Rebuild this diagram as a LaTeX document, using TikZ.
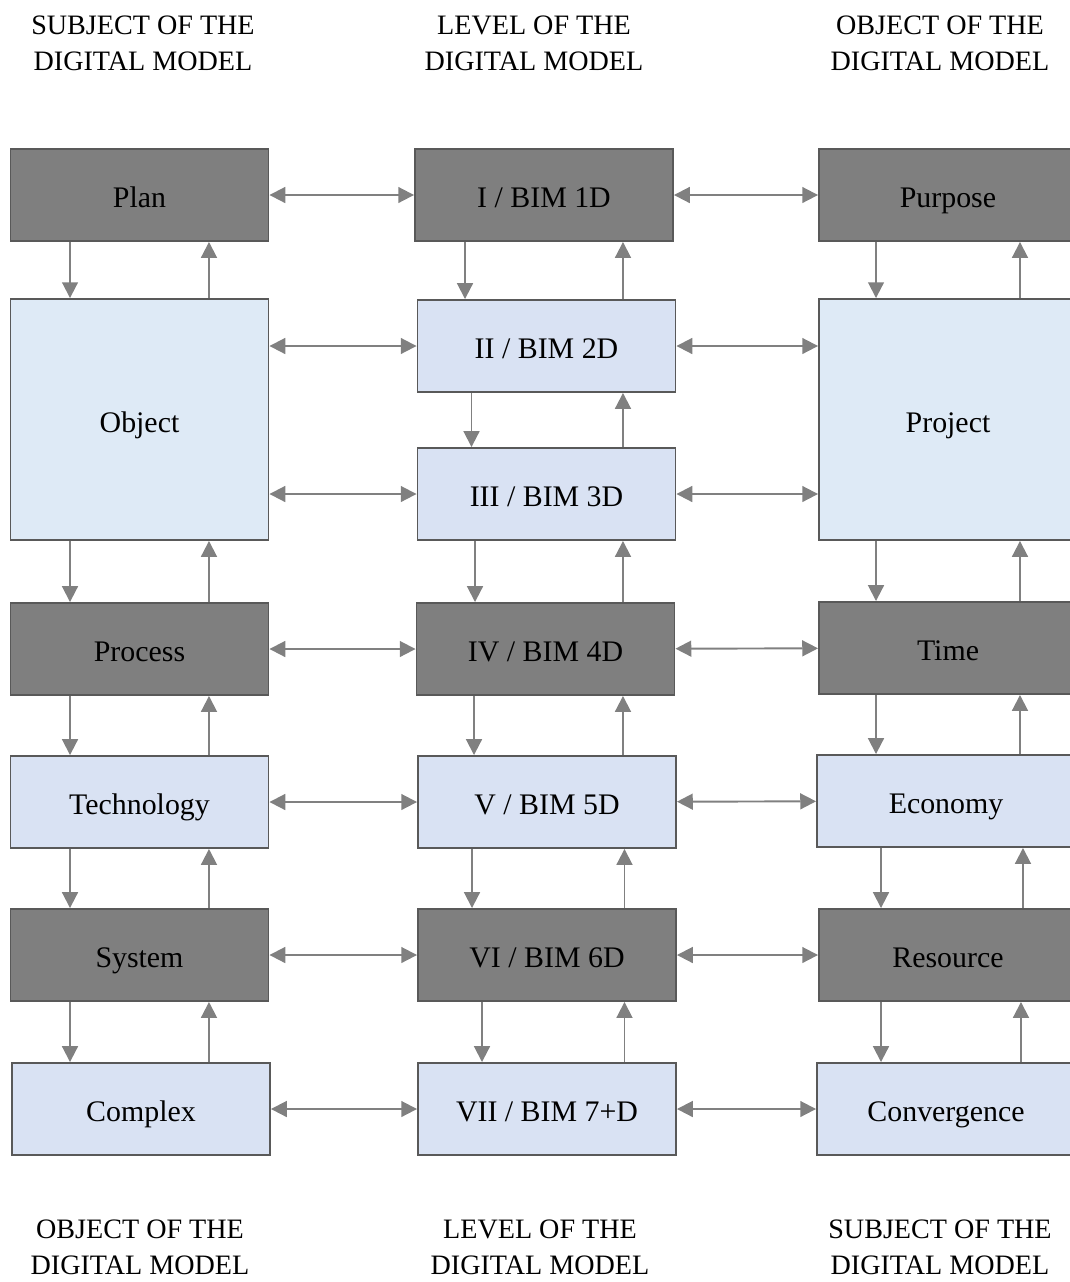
\documentclass[tikz,border=0pt]{standalone}
\usepackage{fontspec}
\setmainfont{Liberation Serif}
\usetikzlibrary{arrows.meta}

\definecolor{darkfill}{HTML}{7F7F7F}
\definecolor{lightfill}{HTML}{D9E2F3}
\definecolor{palefill}{HTML}{DEEAF6}
\definecolor{edgegray}{HTML}{595959}
\definecolor{arrowgray}{HTML}{808080}

\tikzset{
  box/.style={draw=edgegray,line width=1.1pt,minimum width=5.16cm,minimum height=1.84cm,inner sep=0pt,
    text height=14.5pt,text depth=0pt},
  darkbox/.style={box,fill=darkfill},
  lightbox/.style={box,fill=lightfill},
  palebox/.style={box,fill=palefill,minimum height=4.82cm},
  flow/.style={draw=arrowgray,line width=1.1pt,-{Triangle[length=9pt,width=9pt]}},
  link/.style={draw=arrowgray,line width=1.1pt,{Triangle[length=9pt,width=9pt]}-{Triangle[length=9pt,width=9pt]}},
  heading/.style={align=center,inner sep=0pt,font=\fontsize{16}{20.4}\selectfont}
}

\begin{document}
\begin{tikzpicture}[x=0.02cm,y=-0.02cm,font=\fontsize{17}{20.4}\selectfont]
  \useasboundingbox (0,0) rectangle (1070,1282);

  % headings
  \node[heading] (hsubj) at (143,43) {SUBJECT OF THE\\DIGITAL MODEL};
  \node[heading] (hlev)  at (534,43) {LEVEL OF THE\\DIGITAL MODEL};
  \node[heading] (hobj)  at (940,43) {OBJECT OF THE\\DIGITAL MODEL};
  \node[heading] (fobj)  at (140,1247) {OBJECT OF THE\\DIGITAL MODEL};
  \node[heading] (flev)  at (540,1247) {LEVEL OF THE\\DIGITAL MODEL};
  \node[heading] (fsubj) at (940,1247) {SUBJECT OF THE\\DIGITAL MODEL};

  % subject column
  \node[darkbox]  (plan)    at (139.5,195)   {Plan};
  \node[palebox]  (object)  at (139.5,419.5) {Object};
  \node[darkbox]  (process) at (139.5,649)   {Process};
  \node[lightbox] (tech)    at (139.5,802)   {Technology};
  \node[darkbox]  (system)  at (139.5,955)   {System};
  \node[lightbox] (complex) at (141,1109)    {Complex};

  % level column
  \node[darkbox]  (bim1) at (544,195)    {I / BIM 1D};
  \node[lightbox] (bim2) at (546.5,346)  {II / BIM 2D};
  \node[lightbox] (bim3) at (546.5,494)  {III / BIM 3D};
  \node[darkbox]  (bim4) at (545.5,649)  {IV / BIM 4D};
  \node[lightbox] (bim5) at (547,802)    {V / BIM 5D};
  \node[darkbox]  (bim6) at (547,955)    {VI / BIM 6D};
  \node[lightbox] (bim7) at (547,1109)   {VII / BIM 7+D};

  % object column
  \node[darkbox]  (purpose)  at (948,195)   {Purpose};
  \node[palebox]  (project)  at (948,419.5) {Project};
  \node[darkbox]  (time)     at (948,648)   {Time};
  \node[lightbox] (economy)  at (946,801)   {Economy};
  \node[darkbox]  (resource) at (948,955)   {Resource};
  \node[lightbox] (converge) at (946,1109)  {Convergence};

  % left column, down and up
  \draw[flow] ([xshift=-1.39cm]plan.south) -- ([xshift=-1.39cm]object.north);
  \draw[flow] ([xshift=1.39cm]object.north) -- ([xshift=1.39cm]plan.south);
  \draw[flow] ([xshift=-1.39cm]object.south) -- ([xshift=-1.39cm]process.north);
  \draw[flow] ([xshift=1.39cm]process.north) -- ([xshift=1.39cm]object.south);
  \draw[flow] ([xshift=-1.39cm]process.south) -- ([xshift=-1.39cm]tech.north);
  \draw[flow] ([xshift=1.39cm]tech.north) -- ([xshift=1.39cm]process.south);
  \draw[flow] ([xshift=-1.39cm]tech.south) -- ([xshift=-1.39cm]system.north);
  \draw[flow] ([xshift=1.39cm]system.north) -- ([xshift=1.39cm]tech.south);
  \draw[flow] ([xshift=-1.39cm]system.south) -- ([xshift=-1.39cm]system.south |- complex.north);
  \draw[flow] ([xshift=1.39cm]system.south |- complex.north) -- ([xshift=1.39cm]system.south);

  % middle column, down and up
  \draw[flow] ([xshift=-1.58cm]bim1.south) -- ([xshift=-1.58cm]bim1.south |- bim2.north);
  \draw[flow] ([xshift=1.58cm]bim1.south |- bim2.north) -- ([xshift=1.58cm]bim1.south);
  \draw[flow] ([xshift=-1.5cm]bim2.south) -- ([xshift=-1.5cm]bim3.north);
  \draw[flow] ([xshift=1.53cm]bim3.north) -- ([xshift=1.53cm]bim2.south);
  \draw[flow] ([xshift=-1.43cm]bim3.south) -- ([xshift=-1.43cm]bim3.south |- bim4.north);
  \draw[flow] ([xshift=1.53cm]bim3.south |- bim4.north) -- ([xshift=1.53cm]bim3.south);
  \draw[flow] ([xshift=-1.43cm]bim4.south) -- ([xshift=-1.43cm]bim4.south |- bim5.north);
  \draw[flow] ([xshift=1.55cm]bim4.south |- bim5.north) -- ([xshift=1.55cm]bim4.south);
  \draw[flow] ([xshift=-1.5cm]bim5.south) -- ([xshift=-1.5cm]bim6.north);
  \draw[flow] ([xshift=1.55cm]bim6.north) -- ([xshift=1.55cm]bim5.south);
  \draw[flow] ([xshift=-1.3cm]bim6.south) -- ([xshift=-1.3cm]bim7.north);
  \draw[flow] ([xshift=1.55cm]bim7.north) -- ([xshift=1.55cm]bim6.south);

  % right column, down and up
  \draw[flow] ([xshift=-1.44cm]purpose.south) -- ([xshift=-1.44cm]project.north);
  \draw[flow] ([xshift=1.44cm]project.north) -- ([xshift=1.44cm]purpose.south);
  \draw[flow] ([xshift=-1.44cm]project.south) -- ([xshift=-1.44cm]project.south |- time.north);
  \draw[flow] ([xshift=1.44cm]project.south |- time.north) -- ([xshift=1.44cm]project.south);
  \draw[flow] ([xshift=-1.44cm]time.south) -- ([xshift=-1.44cm]time.south |- economy.north);
  \draw[flow] ([xshift=1.44cm]time.south |- economy.north) -- ([xshift=1.44cm]time.south);
  \draw[flow] ([xshift=-1.3cm]economy.south) -- ([xshift=-1.3cm]economy.south |- resource.north);
  \draw[flow] ([xshift=1.54cm]economy.south |- resource.north) -- ([xshift=1.54cm]economy.south);
  \draw[flow] ([xshift=-1.34cm]resource.south) -- ([xshift=-1.34cm]resource.south |- converge.north);
  \draw[flow] ([xshift=1.46cm]resource.south |- converge.north) -- ([xshift=1.46cm]resource.south);

  % horizontal links
  \draw[link] (plan) -- (bim1);
  \draw[link] (bim1) -- (purpose);
  \draw[link] (object.east |- bim2) -- (bim2);
  \draw[link] (bim2) -- (project.west |- bim2);
  \draw[link] (object.east |- bim3) -- (bim3);
  \draw[link] (bim3) -- (project.west |- bim3);
  \draw[link] (process) -- (bim4);
  \draw[link] (bim4) -- (time);
  \draw[link] (tech) -- (bim5);
  \draw[link] (bim5) -- (economy);
  \draw[link] (system) -- (bim6);
  \draw[link] (bim6) -- (resource);
  \draw[link] (complex) -- (bim7);
  \draw[link] (bim7) -- (converge);
\end{tikzpicture}
\end{document}
